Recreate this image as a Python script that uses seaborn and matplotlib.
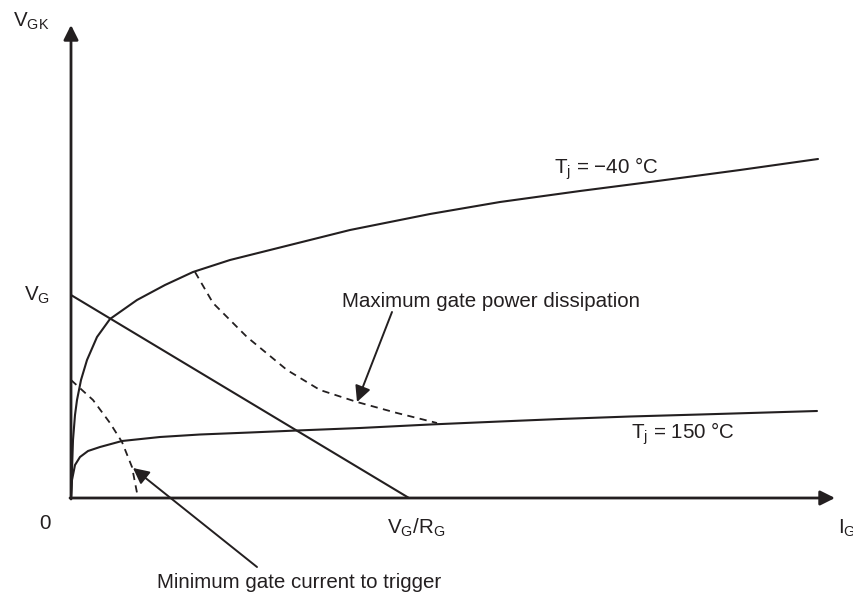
import seaborn as sns
import matplotlib.pyplot as plt
import pandas as pd

# gate characteristic curves (I_G, V_GK), arbitrary units
ig_cold = [0, 1, 2, 4, 6, 10, 16, 26, 39, 66, 94, 122, 159, 199, 279, 359, 429, 509, 579, 669, 747]
vgk_cold = [0, 28, 58, 83, 98, 118, 138, 161, 179, 198, 213, 226, 238, 248, 268, 284, 296, 307, 316, 328, 339]

ig_hot = [0, 1, 4, 9, 17, 29, 51, 89, 129, 179, 226, 289, 359, 429, 489, 559, 629, 746]
vgk_hot = [0, 18, 33, 41, 47, 51, 57, 61, 63.5, 65.5, 67.5, 70, 73.5, 76.5, 79, 81.5, 83.5, 87]

# load line V_G -> V_G/R_G
ig_load = [0, 338]
vgk_load = [203, 0]

# minimum gate current to trigger
ig_min = [0, 22, 39, 51, 61, 67]
vgk_min = [118, 98, 75, 56, 31, 0]

# maximum gate power dissipation
ig_pmax = [124, 142, 176, 216, 249, 286, 326, 366]
vgk_pmax = [226, 195, 161, 128, 108, 96, 85, 75]

sns.set_style("white")
plt.rcParams['font.family'] = ['Liberation Sans', 'DejaVu Sans']
plt.rcParams['mathtext.fontset'] = 'custom'
plt.rcParams['mathtext.rm'] = 'Liberation Sans'
plt.rcParams['mathtext.it'] = 'Liberation Sans'

fs = 14.8
ink = "#231f20"

fig = plt.figure(figsize=(8.54, 5.93), dpi=100)
ax = fig.add_axes([0, 0, 1, 1])

sns.lineplot(x=ig_cold, y=vgk_cold, ax=ax, color=ink, lw=1.5, sort=False)
sns.lineplot(x=ig_hot, y=vgk_hot, ax=ax, color=ink, lw=1.5, sort=False)
sns.lineplot(x=ig_load, y=vgk_load, ax=ax, color=ink, lw=1.5, sort=False)
sns.lineplot(x=ig_min, y=vgk_min, ax=ax, color=ink, lw=1.3, sort=False, dashes=False, linestyle=(0, (4, 3)))
sns.lineplot(x=ig_pmax, y=vgk_pmax, ax=ax, color=ink, lw=1.3, sort=False, dashes=False, linestyle=(0, (4, 3)))

ax.set_xlim(-71, 783)
ax.set_ylim(-95, 498)
ax.axis('off')

# axes with arrows
axis_arrow = dict(arrowstyle='-|>', color=ink, lw=2.0, mutation_scale=22, shrinkA=0, shrinkB=0)
ax.annotate('', xy=(0, 473), xytext=(0, -1), arrowprops=axis_arrow)
ax.annotate('', xy=(764, 0), xytext=(-1, 0), arrowprops=axis_arrow)

# callouts
call_arrow = dict(arrowstyle='-|>', color=ink, lw=1.4, mutation_scale=24, shrinkA=0, shrinkB=0)
ax.annotate('', xy=(286, 96), xytext=(321, 186), arrowprops=call_arrow)
ax.annotate('', xy=(62, 30), xytext=(186, -69), arrowprops=call_arrow)

ax.text(271, 191, "Maximum gate power dissipation", fontsize=fs, color=ink, va='baseline')
ax.text(86, -90, "Minimum gate current to trigger", fontsize=fs, color=ink, va='baseline')

ax.text(587, 324, r"T$_\mathrm{j}$ = −40 °C", fontsize=fs, color=ink, ha='right', va='baseline')
ax.text(560, 59, r"T$_\mathrm{j}$ = 150 °C", fontsize=fs, color=ink, va='baseline')

ax.text(-58, 471, r"V$_\mathrm{GK}$", fontsize=fs, color=ink, va='baseline')
ax.text(-47, 197, r"V$_\mathrm{G}$", fontsize=fs, color=ink, va='baseline')
ax.text(-26, -31, "0", fontsize=fs, color=ink, ha='center', va='baseline')
ax.text(316, -36, r"V$_\mathrm{G}$/R$_\mathrm{G}$", fontsize=fs, color=ink, va='baseline')
ax.text(767, -36, r"I$_\mathrm{G}$", fontsize=fs, color=ink, va='baseline')

plt.savefig("out.png", dpi=100)
